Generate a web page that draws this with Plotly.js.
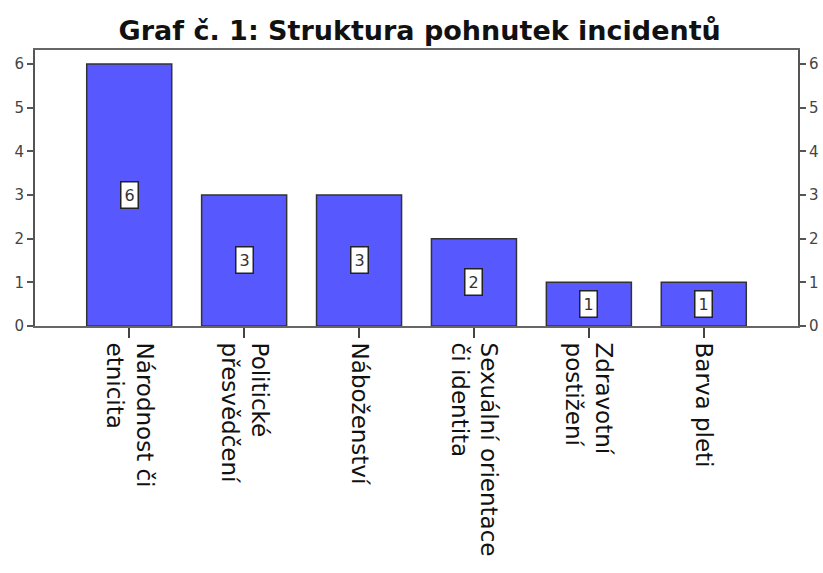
<!DOCTYPE html>
<html><head><meta charset="utf-8">
<script src="https://cdn.plot.ly/plotly-3.0.1.min.js"></script>
<style>body{margin:0;background:#fff}#c{width:823px;height:573px}</style>
</head><body><div id="c"></div>
<script>
const categories = ["Národnost či<br>etnicita", "Politické<br>přesvědčení", "Náboženství", "Sexuální orientace<br>či identita", "Zdravotní<br>postižení", "Barva pleti"];
const counts = [6, 3, 3, 2, 1, 1];
const yTicks = [0, 1, 2, 3, 4, 5, 6];

const font = "DejaVu Sans, sans-serif";
const trace = {
  type: 'bar', x: categories, y: counts, width: 0.74,
  marker: {color: '#5858ff', line: {color: '#333', width: 1.5}},
  hoverinfo: 'none'
};
const dummy = {type: 'scatter', x: [categories[0]], y: [0], yaxis: 'y2', mode: 'none', showlegend: false, hoverinfo: 'none'};
const annotations = categories.map((c, i) => ({
  x: c, y: counts[i] / 2, text: String(counts[i]), showarrow: false,
  bgcolor: '#fff', bordercolor: '#222', borderwidth: 1.5, borderpad: 3,
  font: {family: font, size: 16, color: '#333'}
}));
const yax = {
  range: [0, 6.32], tickvals: yTicks, ticks: 'outside', ticklen: 6, tickwidth: 2, tickcolor: '#555',
  showgrid: false, zeroline: false, showline: true, linecolor: '#555', linewidth: 2,
  tickfont: {family: font, size: 15, color: '#444'}, fixedrange: true
};
const layout = {
  width: 823, height: 573,
  margin: {l: 35, r: 25, t: 50, b: 247},
  paper_bgcolor: '#fff', plot_bgcolor: '#fff',
  showlegend: false,
  title: {text: '<b>Graf č. 1: Struktura pohnutek incidentů</b>', x: 0.51, xanchor: 'center', y: 0.947, yanchor: 'middle',
    font: {family: font, size: 27, color: '#111'}},
  xaxis: {range: [-0.82, 5.82], ticks: 'outside', ticklen: 10, tickwidth: 2, tickcolor: '#444', tickangle: 90,
    showline: true, mirror: true, linecolor: '#666', linewidth: 2, showgrid: false,
    tickfont: {family: font, size: 23, color: '#111'}},
  yaxis: Object.assign({}, yax, {side: 'left'}),
  yaxis2: Object.assign({}, yax, {side: 'right', overlaying: 'y'}),
  annotations: annotations
};
Plotly.newPlot('c', [trace, dummy], layout, {displayModeBar: false, staticPlot: true});
</script></body></html>
